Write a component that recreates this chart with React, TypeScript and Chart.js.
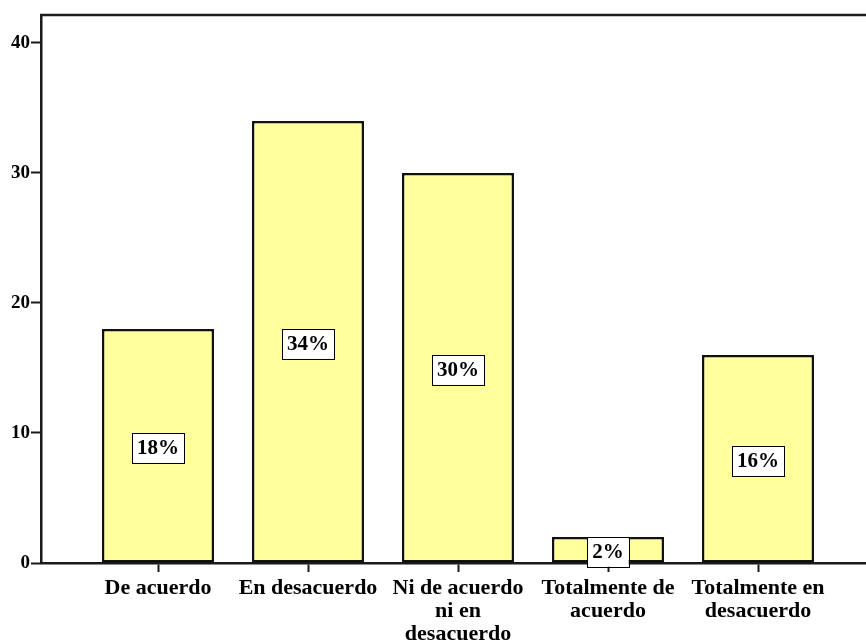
import React, { useEffect, useRef } from "react";
import { Chart, registerables } from "chart.js";

Chart.register(...registerables);

const categories: string[][] = [
  ["De acuerdo"],
  ["En desacuerdo"],
  ["Ni de acuerdo", "ni en", "desacuerdo"],
  ["Totalmente de", "acuerdo"],
  ["Totalmente en", "desacuerdo"],
];
const counts: number[] = [18, 34, 30, 2, 16];
const percentLabels: string[] = ["18%", "34%", "30%", "2%", "16%"];
const yTicks: number[] = [0, 10, 20, 30, 40];

const FONT = "'Liberation Serif', 'Times New Roman', serif";

const labelPlugin = {
  id: "boxLabels",
  afterDatasetsDraw(chart: any) {
    const ctx = chart.ctx;
    const meta = chart.getDatasetMeta(0);
    ctx.save();
    ctx.font = `bold 21px ${FONT}`;
    ctx.textAlign = "center";
    ctx.textBaseline = "middle";
    meta.data.forEach((bar: any, i: number) => {
      const txt = percentLabels[i];
      const cy = (bar.y + bar.base) / 2 + 2;
      const w = ctx.measureText(txt).width + 10;
      const h = 30;
      ctx.fillStyle = "#ffffff";
      ctx.fillRect(bar.x - w / 2, cy - h / 2, w, h);
      ctx.strokeStyle = "#000000";
      ctx.lineWidth = 1;
      ctx.strokeRect(Math.round(bar.x - w / 2) + 0.5, Math.round(cy - h / 2) + 0.5, Math.round(w), h);
      ctx.fillStyle = "#000000";
      ctx.fillText(txt, bar.x, cy + 1);
    });
    ctx.restore();
  },
};

const frameTopPlugin = {
  id: "frameTop",
  afterDraw(chart: any) {
    const { ctx, chartArea } = chart;
    ctx.save();
    ctx.strokeStyle = "#1a1a1a";
    ctx.lineWidth = 2.5;
    ctx.beginPath();
    ctx.moveTo(chartArea.left - 1, chartArea.top);
    ctx.lineTo(chartArea.right, chartArea.top);
    ctx.stroke();
    ctx.restore();
  },
};

export default function App() {
  const ref = useRef<HTMLCanvasElement | null>(null);
  useEffect(() => {
    if (!ref.current) return;
    const chart = new Chart(ref.current, {
      type: "bar",
      data: {
        datasets: [
          {
            data: counts.map((v, i) => ({ x: i, y: v })) as any,
            backgroundColor: "#ffff9c",
            borderColor: "#111111",
            borderWidth: 2.5,
            borderSkipped: false,
            barPercentage: 0.747,
            categoryPercentage: 1,
          },
        ],
      },
      options: {
        animation: false,
        responsive: false,
        maintainAspectRatio: false,
        layout: { padding: { top: 15, left: 0, right: 0, bottom: 0 } },
        plugins: { legend: { display: false }, tooltip: { enabled: false } },
        scales: {
          x: {
            type: "linear",
            offset: false,
            min: -0.78,
            max: 4.72,
            afterBuildTicks: (scale: any) => {
              scale.ticks = categories.map((_, i) => ({ value: i }));
            },
            afterFit: (scale: any) => {
              scale.height = 81;
            },
            ticks: {
              callback: (v: any) => categories[Number(v)] ?? "",
              color: "#000000",
              font: { family: FONT, size: 22, weight: "bold", lineHeight: 1.05 },
              padding: 5,
              maxRotation: 0,
              autoSkip: false,
            },
            grid: {
              offset: false,
              drawOnChartArea: false,
              tickLength: 9,
              tickColor: "#1a1a1a",
              tickWidth: 2,
            },
            border: { color: "#1a1a1a", width: 2.5 },
          },
          y: {
            min: 0,
            max: 42.15,
            afterBuildTicks: (scale: any) => {
              scale.ticks = yTicks.map((v) => ({ value: v }));
            },
            afterFit: (scale: any) => {
              scale.width = 41;
            },
            ticks: {
              color: "#000000",
              font: { family: FONT, size: 19, weight: "bold" },
              padding: 1,
            },
            grid: {
              drawOnChartArea: false,
              tickLength: 10,
              tickColor: "#1a1a1a",
              tickWidth: 2,
            },
            border: { color: "#1a1a1a", width: 2.5 },
          },
        },
      },
      plugins: [labelPlugin, frameTopPlugin],
    } as any);
    return () => chart.destroy();
  }, []);
  return (
    <div style={{ position: "fixed", left: 0, top: 0, width: 866, height: 644, background: "#fff" }}>
      <canvas ref={ref} width={866} height={644} style={{ display: "block" }} />
    </div>
  );
}
